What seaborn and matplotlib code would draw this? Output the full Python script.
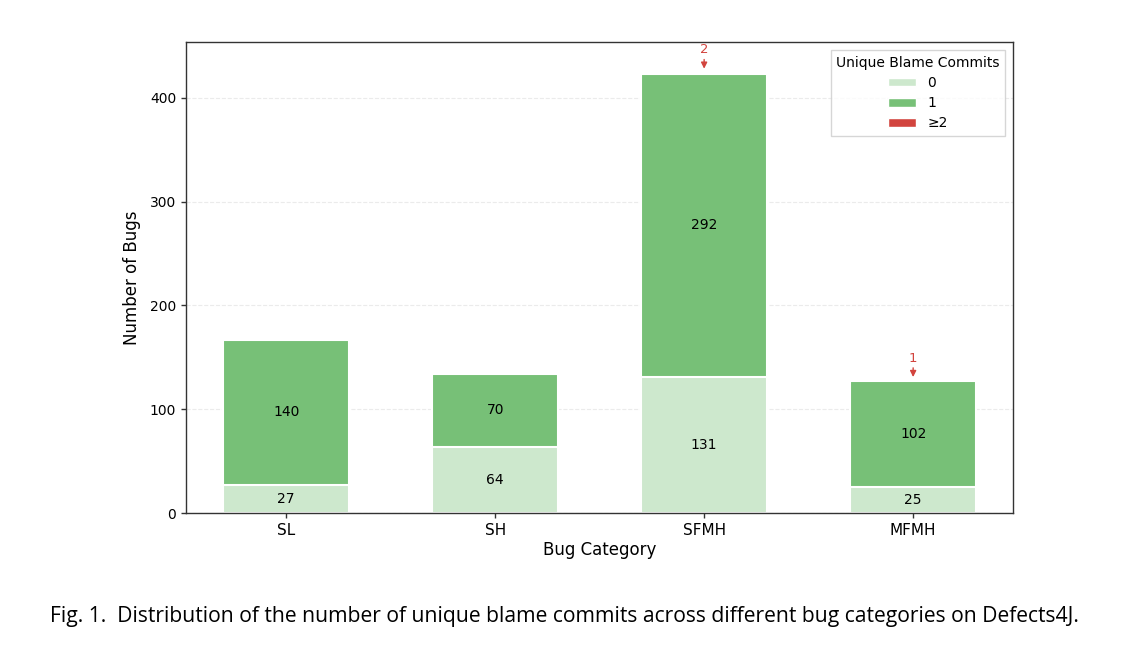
import numpy as np
import pandas as pd
import matplotlib
matplotlib.use("Agg")
import matplotlib.pyplot as plt
import seaborn as sns
from matplotlib.patches import Patch

# --- data ---
categories = ["SL", "SH", "SFMH", "MFMH"]
zero_commits = [27, 64, 131, 25]
one_commit = [140, 70, 292, 102]
multi_commits = [0, 0, 2, 1]

C0 = "#cde8cd"
C1 = "#77c077"
C2 = "#d2443e"

df = pd.DataFrame({
    "Category": categories,
    "c0": zero_commits,
    "c1": one_commit,
    "c2": multi_commits,
})
df["s01"] = df["c0"] + df["c1"]
df["total"] = df["s01"] + df["c2"]

sns.set_style("white")
plt.rcParams["font.family"] = ["DejaVu Sans"]
plt.rcParams["text.color"] = "black"
plt.rcParams["axes.labelcolor"] = "black"
plt.rcParams["xtick.color"] = "black"
plt.rcParams["ytick.color"] = "black"

fig = plt.figure(figsize=(11.4, 6.62), dpi=100)
ax = fig.add_axes([0.163, 0.225, 0.726, 0.712])

# stacked bars via overlapping cumulative heights
kw = dict(x="Category", order=categories, width=0.6, edgecolor="white",
          linewidth=1.5, saturation=1, ax=ax, zorder=2)
sns.barplot(data=df, y="total", color=C2, **kw)
sns.barplot(data=df, y="s01", color=C1, **kw)
sns.barplot(data=df, y="c0", color=C0, **kw)

# segment labels
for i, row in df.iterrows():
    if row["c0"] > 0:
        ax.text(i, row["c0"] / 2, str(row["c0"]), ha="center", va="center",
                fontsize=10, zorder=3)
    if row["c1"] > 0:
        ax.text(i, row["c0"] + row["c1"] / 2, str(row["c1"]), ha="center",
                va="center", fontsize=10, zorder=3)
    if row["c2"] > 0:
        ax.annotate(str(row["c2"]), xy=(i, row["total"] + 3),
                    xytext=(i, row["total"] + 15), ha="center", va="bottom",
                    fontsize=9.5, color=C2,
                    arrowprops=dict(arrowstyle="-|>", color=C2, lw=1.0,
                                    mutation_scale=9, shrinkA=0, shrinkB=0))

ax.set_xlim(-0.48, 3.48)
ax.set_ylim(0, 454)
ax.set_yticks([0, 100, 200, 300, 400])
ax.yaxis.grid(True, linestyle="--", color="#ebebeb", linewidth=0.8, zorder=0)
ax.set_axisbelow(True)
for s in ax.spines.values():
    s.set_color("#333333")
    s.set_linewidth(1.0)
ax.tick_params(axis="both", labelsize=10, length=3.5, width=1, color="#333333",
               bottom=True, left=True)
ax.tick_params(axis="x", labelsize=11)
ax.set_xlabel("Bug Category", fontsize=12, labelpad=2)
ax.set_ylabel("Number of Bugs", fontsize=12, labelpad=6)

handles = [Patch(facecolor=C0, label="0"), Patch(facecolor=C1, label="1"),
           Patch(facecolor=C2, label="≥2")]
ax.legend(handles=handles, title="Unique Blame Commits", loc="upper right",
          fontsize=10, title_fontsize=10, frameon=True, fancybox=False,
          edgecolor="#cccccc", handlelength=2, handleheight=0.6,
          borderaxespad=0.6, labelspacing=0.45)

fig.text(0.495, 0.068,
         "Fig. 1.  Distribution of the number of unique blame commits across different bug categories on Defects4J.",
         ha="center", va="center", fontsize=15.2,
         family=["Open Sans", "DejaVu Sans"])

fig.savefig("out.png", dpi=100)
